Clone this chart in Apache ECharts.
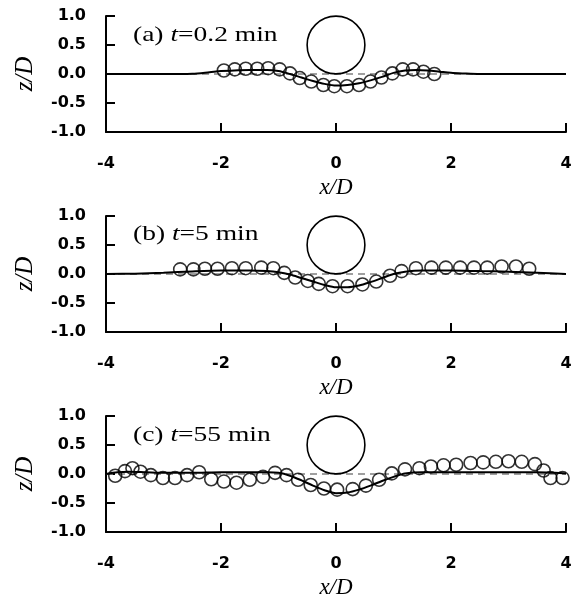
<!DOCTYPE html>
<html><head><meta charset="utf-8">
<script src="https://cdn.jsdelivr.net/npm/echarts@6.0.0/dist/echarts.min.js"></script>
<style>html,body{margin:0;padding:0;background:#fff}#c{width:575px;height:601px}</style>
</head><body><div id="c"></div>
<script>
// Axis ranges / ticks
const xRange = [-4, 4];
const xInterval = 2;
const zRange = [-1, 1];
const zInterval = 0.5;

// Panel labels: [prefix, italic symbol, suffix]
const panelPrefix = ['(a) ', '(b) ', '(c) '];
const panelSymbol = ['t', 't', 't'];
const panelSuffix = ['=0.2 min', '=5 min', '=55 min'];

// Cylinder (pipe) : centre x, centre z, radius (in D units)
const cylinderCenter = [0, 0.5];
const cylinderRadius = 0.5;

// Initial bed level line
const bedX = [-4, 4];
const bedZ = [0, 0];

// (a) t = 0.2 min
const measAx = [-1.95, -1.76, -1.57, -1.37, -1.18, -0.98, -0.80, -0.63, -0.43, -0.22, -0.03, 0.19, 0.40, 0.60, 0.79, 0.98, 1.16, 1.34, 1.52, 1.71];
const measAz = [0.06, 0.08, 0.09, 0.09, 0.10, 0.08, 0.01, -0.07, -0.13, -0.19, -0.21, -0.21, -0.19, -0.13, -0.06, 0.01, 0.08, 0.08, 0.04, 0.00];
const simAx = [-4, -3, -2.5, -2.2, -2, -1.5, -1.2, -1.0, -0.8, -0.6, -0.4, -0.2, 0, 0.2, 0.4, 0.6, 0.8, 1.0, 1.2, 1.4, 1.6, 1.8, 2.0, 2.2, 2.5, 3, 4];
const simAz = [0, 0, 0.005, 0.03, 0.05, 0.07, 0.07, 0.05, 0.0, -0.06, -0.12, -0.17, -0.20, -0.19, -0.16, -0.11, -0.05, 0.02, 0.06, 0.07, 0.06, 0.04, 0.02, 0.01, 0, 0, 0];

// (b) t = 5 min
const measBx = [-2.71, -2.48, -2.28, -2.06, -1.81, -1.57, -1.30, -1.09, -0.90, -0.71, -0.49, -0.30, -0.06, 0.20, 0.46, 0.70, 0.94, 1.14, 1.39, 1.66, 1.91, 2.16, 2.40, 2.63, 2.88, 3.13, 3.36];
const measBz = [0.08, 0.08, 0.09, 0.09, 0.10, 0.10, 0.11, 0.10, 0.02, -0.06, -0.12, -0.17, -0.21, -0.21, -0.18, -0.13, -0.03, 0.05, 0.10, 0.11, 0.11, 0.11, 0.11, 0.11, 0.13, 0.13, 0.09];
const simBx = [-4, -3.5, -3, -2.5, -2, -1.5, -1.2, -1.0, -0.8, -0.6, -0.4, -0.2, 0, 0.2, 0.4, 0.6, 0.8, 1.0, 1.2, 1.5, 2.0, 2.5, 3.0, 3.5, 4.0];
const simBz = [0, 0.005, 0.02, 0.045, 0.06, 0.06, 0.05, 0.03, -0.01, -0.07, -0.13, -0.19, -0.23, -0.23, -0.20, -0.14, -0.07, 0.0, 0.04, 0.06, 0.06, 0.05, 0.04, 0.02, 0.0];

// (c) t = 55 min
const measCx = [-3.84, -3.67, -3.54, -3.40, -3.22, -3.01, -2.80, -2.59, -2.38, -2.17, -1.95, -1.73, -1.50, -1.27, -1.06, -0.86, -0.66, -0.44, -0.21, 0.02, 0.29, 0.52, 0.75, 0.97, 1.20, 1.45, 1.65, 1.87, 2.09, 2.34, 2.56, 2.78, 3.00, 3.23, 3.46, 3.61, 3.73, 3.94];
const measCz = [-0.03, 0.05, 0.10, 0.04, -0.02, -0.07, -0.07, -0.02, 0.03, -0.09, -0.13, -0.15, -0.10, -0.05, 0.02, -0.02, -0.10, -0.19, -0.25, -0.27, -0.26, -0.20, -0.10, 0.01, 0.08, 0.10, 0.13, 0.15, 0.16, 0.19, 0.20, 0.21, 0.22, 0.21, 0.17, 0.06, -0.07, -0.07];
const simCx = [-4, -3.8, -3.6, -3.3, -3, -2.5, -2, -1.5, -1.2, -1.0, -0.8, -0.6, -0.4, -0.2, 0, 0.2, 0.4, 0.6, 0.8, 1.0, 1.2, 1.5, 2, 2.5, 3, 3.5, 3.8, 4];
const simCz = [0.0, 0.03, 0.04, 0.03, 0.02, 0.02, 0.03, 0.03, 0.03, 0.02, -0.03, -0.11, -0.20, -0.28, -0.33, -0.32, -0.27, -0.20, -0.12, -0.05, 0.01, 0.03, 0.03, 0.03, 0.03, 0.03, 0.02, 0.01];

const measX = [measAx, measBx, measCx];
const measZ = [measAz, measBz, measCz];
const simX = [simAx, simBx, simCx];
const simZ = [simAz, simBz, simCz];

const zip = (a, b) => a.map((v, i) => [v, b[i]]);

const gridTops = [16, 216, 416];
const gridH = 116;
const labelY = [35, 234, 435];

const grids = [], xAxes = [], yAxes = [], series = [], graphics = [];
for (let p = 0; p < 3; p++) {
  grids.push({ left: 106, width: 460, top: gridTops[p], height: gridH, containLabel: false });
  xAxes.push({
    type: 'value', gridIndex: p, min: xRange[0], max: xRange[1], interval: xInterval,
    name: 'x/D', nameLocation: 'middle', nameGap: 44,
    nameTextStyle: { fontFamily: 'Liberation Serif', fontStyle: 'italic', fontSize: 23, color: '#000' },
    axisLine: { onZero: false, lineStyle: { color: '#000', width: 2 } },
    axisTick: { inside: true, length: 9, lineStyle: { color: '#000', width: 2 } },
    axisLabel: { margin: 24, color: '#000', fontFamily: 'DejaVu Sans', fontWeight: 'bold', fontSize: 16 },
    splitLine: { show: false }
  });
  yAxes.push({
    type: 'value', gridIndex: p, min: zRange[0], max: zRange[1], interval: zInterval,
    name: 'z/D', nameLocation: 'middle', nameGap: 68, nameRotate: 90,
    nameTextStyle: { fontFamily: 'Liberation Serif', fontStyle: 'italic', fontSize: 25, color: '#000' },
    axisLine: { onZero: false, lineStyle: { color: '#000', width: 2 } },
    axisTick: { inside: true, length: 9, lineStyle: { color: '#000', width: 2 } },
    axisLabel: { margin: 20, color: '#000', fontFamily: 'DejaVu Sans', fontWeight: 'bold', fontSize: 16,
      formatter: v => v.toFixed(1) },
    splitLine: { show: false }
  });
  series.push({
    type: 'line', xAxisIndex: p, yAxisIndex: p, data: zip(bedX, bedZ), symbol: 'none', z: 1,
    lineStyle: { color: '#808080', width: 1.5, type: [7, 5] }, silent: true
  });
  series.push({
    type: 'line', xAxisIndex: p, yAxisIndex: p, data: zip(simX[p], simZ[p]), symbol: 'none', smooth: 0.3, z: 2,
    lineStyle: { color: '#000', width: 2 }, silent: true
  });
  series.push({
    type: 'scatter', xAxisIndex: p, yAxisIndex: p, data: zip(measX[p], measZ[p]), symbol: 'circle', symbolSize: 13, z: 3,
    itemStyle: { color: 'rgba(0,0,0,0)', borderColor: '#000', borderWidth: 1.6 }, silent: true
  });
  series.push({
    type: 'custom', xAxisIndex: p, yAxisIndex: p, z: 3, silent: true,
    data: [[cylinderCenter[0], cylinderCenter[1], cylinderRadius]],
    renderItem: (params, api) => {
      const c = api.coord([api.value(0), api.value(1)]);
      const s = api.size([api.value(2), api.value(2)]);
      return { type: 'circle', shape: { cx: c[0], cy: c[1], r: (s[0] + s[1]) / 2 },
        style: { fill: 'none', stroke: '#000', lineWidth: 1.6 } };
    }
  });
  graphics.push({
    type: 'text', x: 133, y: labelY[p], scaleX: 1.25, scaleY: 1,
    style: {
      text: '{n|' + panelPrefix[p] + '}{i|' + panelSymbol[p] + '}{n|' + panelSuffix[p] + '}',
      verticalAlign: 'middle',
      rich: {
        n: { fontFamily: 'Liberation Serif', fontSize: 22, fill: '#000', color: '#000' },
        i: { fontFamily: 'Liberation Serif', fontStyle: 'italic', fontSize: 22, fill: '#000', color: '#000' }
      }
    }
  });
}

const chart = echarts.init(document.getElementById('c'), null, { renderer: 'canvas' });
chart.setOption({
  animation: false,
  backgroundColor: '#fff',
  grid: grids, xAxis: xAxes, yAxis: yAxes, series: series, graphic: graphics
});
</script>
</body></html>
